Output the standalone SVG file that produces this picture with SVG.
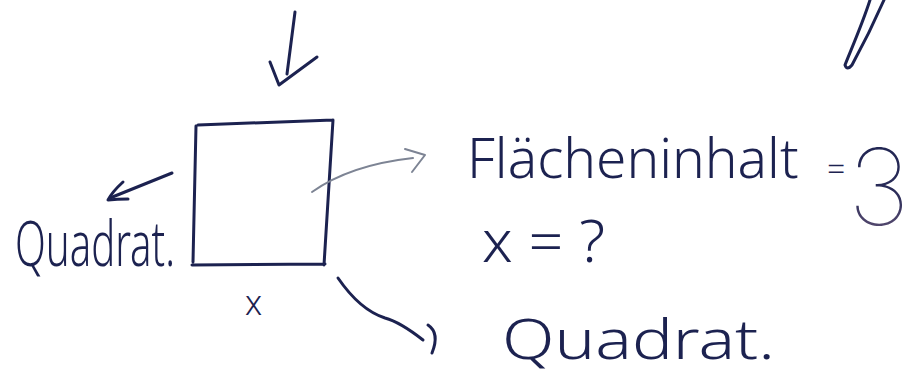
<svg xmlns="http://www.w3.org/2000/svg" width="915" height="376" viewBox="0 0 915 376">
  <style>
    .ink { fill: none; stroke: #1c2250; stroke-width: 3; stroke-linecap: round; stroke-linejoin: round; }
    .faint { fill: none; stroke: #7d8494; stroke-width: 2; stroke-linecap: round; stroke-linejoin: round; }
    .hand { font-family: "Noto Sans", "Liberation Sans", Arial, sans-serif; font-weight: 300; fill: #1c2250; }
    .thin { font-family: "Inter", "Noto Sans", "Liberation Sans", sans-serif; font-weight: 100; }
  </style>
  <defs>
    <linearGradient id="three" x1="0" y1="0" x2="0" y2="1">
      <stop offset="0" stop-color="#1c2250"/>
      <stop offset="0.55" stop-color="#2a2c58"/>
      <stop offset="1" stop-color="#6e5a7c"/>
    </linearGradient>
  </defs>
  <rect width="915" height="376" fill="#ffffff"/>

  <!-- stray stroke top right -->
  <path class="ink" d="M870,0 C862,25 850,52 845,65 Q847,71 852,65 C863,45 877,16 884,0"/>

  <g id="square">
    <path class="ink" d="M198,125 L333,120 M333,120 L324,265 M196,126 L193,262 M192,265 L325,264"/>
  </g>

  <g id="connectors">
    <path class="ink" d="M295,12 L287,74"/>
    <path class="ink" d="M270,62 L279,85 L317,57"/>
    <path class="ink" d="M172,173 L110,198"/>
    <path class="ink" d="M123,182 Q112,192 108,200 Q117,199 128,199"/>
    <path class="faint" d="M312,192 Q350,165 413,158"/>
    <path class="faint" d="M405,149 L425,155 L412,172"/>
    <path class="ink" d="M338,278 Q360,310 385,318 Q400,322 423,340"/>
    <path class="ink" d="M428,325 Q440,333 432,353"/>
  </g>

  <g id="label-left">
    <text class="hand" transform="translate(15,266) scale(1,1.2)" x="0" y="0" font-size="52" textLength="160" lengthAdjust="spacingAndGlyphs">Quadrat.</text>
  </g>

  <g id="label-x">
    <text class="hand" x="245" y="315" font-size="34">x</text>
  </g>

  <g id="label-area">
    <text class="hand" x="467" y="178" font-size="55">Flächeninhalt<tspan x="827" y="180" font-size="32">=</tspan><tspan class="thin" x="848" y="225" font-size="106" fill="url(#three)">3</tspan></text>
  </g>

  <g id="label-question">
    <text class="hand" x="482" y="262" font-size="58" textLength="123" lengthAdjust="spacingAndGlyphs">x = ?</text>
  </g>

  <g id="label-bottom">
    <text class="hand" x="502" y="359" font-size="56" textLength="273" lengthAdjust="spacingAndGlyphs">Quadrat.</text>
  </g>
</svg>
